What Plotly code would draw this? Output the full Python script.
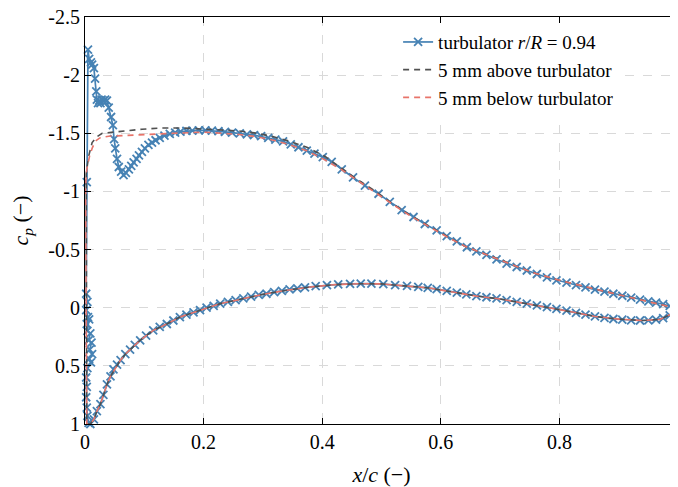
import plotly.graph_objects as go

# ---- turbulator r/R = 0.94 (markers), upper surface LE -> TE
turb_up_x = [0.005, 0.007, 0.010, 0.012, 0.015, 0.017, 0.019, 0.020, 0.022, 0.024, 0.026, 0.028, 0.031, 0.034,
             0.037, 0.040, 0.044, 0.047, 0.049, 0.051, 0.054, 0.057, 0.061, 0.065, 0.069, 0.074, 0.078, 0.082,
             0.087, 0.091, 0.096, 0.101, 0.107, 0.113, 0.119, 0.126, 0.134, 0.143, 0.152, 0.161, 0.171, 0.181,
             0.192, 0.203, 0.214, 0.225, 0.236, 0.248, 0.261, 0.273, 0.285, 0.297, 0.309, 0.321, 0.334, 0.347,
             0.360, 0.374, 0.387, 0.401, 0.416, 0.433, 0.452, 0.472, 0.495, 0.514, 0.534, 0.554, 0.573, 0.593,
             0.610, 0.627, 0.644, 0.660, 0.677, 0.694, 0.711, 0.728, 0.745, 0.762, 0.779, 0.795, 0.812, 0.828,
             0.844, 0.860, 0.876, 0.891, 0.906, 0.921, 0.936, 0.950, 0.963, 0.975, 0.986, 0.995, 1.000]
turb_up_cp = [-2.22, -2.14, -2.11, -2.09, -2.06, -1.97, -1.86, -1.79, -1.76, -1.78, -1.76, -1.79, -1.78, -1.79,
              -1.78, -1.72, -1.64, -1.57, -1.45, -1.37, -1.28, -1.21, -1.17, -1.14, -1.16, -1.19, -1.22, -1.25,
              -1.28, -1.31, -1.34, -1.37, -1.40, -1.42, -1.44, -1.46, -1.48, -1.495, -1.505, -1.515, -1.52, -1.522,
              -1.525, -1.525, -1.522, -1.518, -1.512, -1.505, -1.50, -1.49, -1.485, -1.475, -1.46, -1.445, -1.43, -1.405,
              -1.38, -1.35, -1.325, -1.295, -1.255, -1.19, -1.12, -1.05, -0.98, -0.91, -0.84, -0.78, -0.72, -0.665,
              -0.615, -0.57, -0.52, -0.485, -0.455, -0.415, -0.38, -0.35, -0.32, -0.29, -0.26, -0.235, -0.215, -0.195,
              -0.175, -0.155, -0.138, -0.12, -0.103, -0.087, -0.07, -0.055, -0.043, -0.03, -0.015, 0.0, 0.01]
# scattered points around the turbulator / stagnation region
turb_le_x = [0.003, 0.002, 0.004, 0.002, 0.005, 0.003, 0.007, 0.004, 0.009, 0.006, 0.011, 0.008, 0.012, 0.007,
             0.010, 0.004, 0.002, 0.003, 0.002, 0.003, 0.004, 0.006]
turb_le_cp = [-1.08, -0.12, -0.05, 0.02, 0.08, 0.14, 0.10, 0.20, 0.22, 0.28, 0.30, 0.36, 0.40, 0.44,
              0.47, 0.52, 0.60, 0.68, 0.77, 0.86, 0.93, 0.99]
# lower surface LE -> TE
turb_lo_x = [0.009, 0.015, 0.020, 0.026, 0.031, 0.037, 0.043, 0.048, 0.054, 0.060, 0.068, 0.076, 0.084, 0.093,
             0.103, 0.115, 0.126, 0.138, 0.149, 0.160, 0.171, 0.183, 0.194, 0.205, 0.217, 0.228, 0.241, 0.254,
             0.267, 0.280, 0.293, 0.306, 0.319, 0.332, 0.345, 0.358, 0.371, 0.389, 0.408, 0.427, 0.447, 0.465,
             0.483, 0.503, 0.523, 0.543, 0.562, 0.578, 0.593, 0.610, 0.627, 0.643, 0.660, 0.677, 0.694, 0.711,
             0.728, 0.745, 0.762, 0.779, 0.795, 0.812, 0.828, 0.844, 0.860, 0.876, 0.891, 0.906, 0.921, 0.936,
             0.950, 0.963, 0.975, 0.986, 0.995, 1.000]
turb_lo_cp = [1.00, 0.96, 0.89, 0.83, 0.75, 0.66, 0.59, 0.53, 0.49, 0.45, 0.40, 0.36, 0.32, 0.28,
              0.24, 0.195, 0.165, 0.14, 0.11, 0.08, 0.06, 0.04, 0.02, 0.0, -0.015, -0.035, -0.05, -0.065,
              -0.08, -0.095, -0.11, -0.12, -0.135, -0.145, -0.158, -0.167, -0.175, -0.185, -0.195, -0.20, -0.205, -0.207,
              -0.207, -0.202, -0.195, -0.188, -0.18, -0.17, -0.16, -0.145, -0.13, -0.115, -0.10, -0.09, -0.08, -0.065,
              -0.05, -0.035, -0.02, -0.005, 0.01, 0.025, 0.045, 0.06, 0.075, 0.088, 0.097, 0.103, 0.108, 0.11,
              0.108, 0.103, 0.09, 0.065, 0.03, 0.01]

# ---- 5 mm above turbulator (upper surface LE -> TE)
above_up_x = [0.002, 0.006, 0.012, 0.02, 0.029, 0.043, 0.068, 0.096, 0.13, 0.166, 0.2, 0.23, 0.26, 0.29, 0.318,
              0.346, 0.374, 0.405, 0.433, 0.46, 0.49, 0.52, 0.55, 0.58, 0.61, 0.64, 0.67, 0.7, 0.73, 0.76, 0.79,
              0.82, 0.85, 0.88, 0.91, 0.94, 0.97, 1.0]
above_up_cp = [-1.15, -1.30, -1.42, -1.47, -1.50, -1.51, -1.52, -1.535, -1.545, -1.545, -1.54, -1.53, -1.52, -1.50,
               -1.47, -1.43, -1.38, -1.30, -1.20, -1.10, -1.0, -0.89, -0.79, -0.70, -0.615, -0.53, -0.47, -0.415,
               -0.35, -0.295, -0.25, -0.21, -0.17, -0.135, -0.10, -0.065, -0.03, 0.01]
# ---- 5 mm below turbulator (upper surface LE -> TE)
below_up_x = [0.001, 0.003, 0.008, 0.012, 0.017, 0.025, 0.04, 0.07, 0.1, 0.15, 0.2, 0.23, 0.26, 0.29, 0.318,
              0.346, 0.374, 0.405, 0.433, 0.46, 0.49, 0.52, 0.55, 0.58, 0.61, 0.64, 0.67, 0.7, 0.73, 0.76, 0.79,
              0.82, 0.85, 0.88, 0.91, 0.94, 0.97, 1.0]
below_up_cp = [-1.05, -1.19, -1.31, -1.37, -1.43, -1.46, -1.475, -1.48, -1.487, -1.50, -1.51, -1.50, -1.49, -1.47,
               -1.44, -1.40, -1.35, -1.27, -1.185, -1.09, -0.99, -0.885, -0.785, -0.695, -0.61, -0.53, -0.465, -0.41,
               -0.35, -0.295, -0.25, -0.21, -0.17, -0.135, -0.10, -0.065, -0.03, 0.01]
# lower surface for both probes (LE -> TE)
probe_lo_x = [0.003, 0.009, 0.015, 0.02, 0.026, 0.031, 0.037, 0.043, 0.051, 0.06, 0.068, 0.076, 0.093, 0.115,
              0.138, 0.16, 0.183, 0.205, 0.228, 0.26, 0.3, 0.34, 0.38, 0.42, 0.46, 0.5, 0.54, 0.58, 0.62, 0.66,
              0.7, 0.74, 0.78, 0.82, 0.86, 0.9, 0.94, 0.97, 0.99, 1.0]
probe_lo_cp = [1.0, 1.0, 0.96, 0.89, 0.83, 0.75, 0.66, 0.59, 0.52, 0.45, 0.40, 0.36, 0.28, 0.195,
               0.14, 0.08, 0.04, 0.0, -0.035, -0.07, -0.115, -0.15, -0.178, -0.198, -0.206, -0.205, -0.19, -0.17,
               -0.135, -0.10, -0.075, -0.04, -0.005, 0.035, 0.075, 0.098, 0.11, 0.1, 0.05, 0.01]

x_ticks = [0, 0.2, 0.4, 0.6, 0.8, 1]
x_tick_text = ["0", "0.2", "0.4", "0.6", "0.8", "1"]
y_ticks = [-2.5, -2, -1.5, -1, -0.5, 0, 0.5, 1]
y_tick_text = ["-2.5", "-2", "-1.5", "-1", "-0.5", "0", "0.5", "1"]

FONT = "'Liberation Serif', 'DejaVu Serif', 'Times New Roman', serif"
BLUE = "#4682b4"
GRAY = "#505050"
RED = "#e8746a"

fig = go.Figure()
fig.add_trace(go.Scatter(
    x=turb_up_x[::-1] + turb_le_x + turb_lo_x,
    y=turb_up_cp[::-1] + turb_le_cp + turb_lo_cp,
    mode="lines+markers",
    name="turbulator <i>r</i>/<i>R</i> = 0.94",
    line=dict(color=BLUE, width=1.7),
    marker=dict(symbol="x-thin", size=8, line=dict(color=BLUE, width=1.8)),
    cliponaxis=False,
))
fig.add_trace(go.Scatter(
    x=above_up_x[::-1] + probe_lo_x,
    y=above_up_cp[::-1] + probe_lo_cp,
    mode="lines",
    name="5 mm above turbulator",
    line=dict(color=GRAY, width=1.6, dash="6px,5px"),
))
fig.add_trace(go.Scatter(
    x=below_up_x[::-1] + probe_lo_x,
    y=below_up_cp[::-1] + probe_lo_cp,
    mode="lines",
    name="5 mm below turbulator",
    line=dict(color=RED, width=1.6, dash="6px,5px"),
))

axis_common = dict(
    showline=True, linecolor="black", linewidth=1.2, mirror="ticks",
    ticks="inside", ticklen=6, tickcolor="black", tickwidth=1,
    showgrid=True, gridcolor="#d9d9d9", gridwidth=1, griddash="dash",
    zeroline=False, tickfont=dict(family=FONT, size=20, color="black"),
    automargin=False, ticklabeloverflow="allow",
)
fig.update_xaxes(range=[0, 1], tickvals=x_ticks, ticktext=x_tick_text,
                 title=dict(text="<i>x</i>/<i>c</i> (−)", font=dict(family=FONT, size=22, color="black"), standoff=14),
                 **axis_common)
fig.update_yaxes(range=[1, -2.5], tickvals=y_ticks, ticktext=y_tick_text,
                 title=dict(text="<i>c<sub>p</sub></i> (−)", font=dict(family=FONT, size=22, color="black"), standoff=16),
                 **axis_common)

# the page body adds an 8 px offset; margins are reduced to compensate
fig.update_layout(
    width=670, height=479,
    margin=dict(l=77, r=0, t=9, b=63, autoexpand=False),
    paper_bgcolor="white", plot_bgcolor="white",
    font=dict(family=FONT, size=19, color="black"),
    showlegend=True,
    legend=dict(x=0.528, y=0.985, xanchor="left", yanchor="top",
                bgcolor="white", borderwidth=0,
                font=dict(family=FONT, size=19, color="black"),
                tracegroupgap=0, itemwidth=30),
)

fig.write_html("out.html")
